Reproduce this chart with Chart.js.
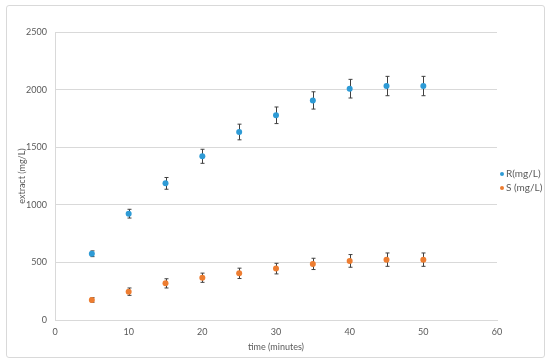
<!DOCTYPE html>
<html>
<head>
<meta charset="utf-8">
<script src="https://cdn.jsdelivr.net/npm/chart.js@4"></script>
<style>
  html, body { margin: 0; padding: 0; background: #fff; }
  #wrap { position: relative; width: 550px; height: 362px; }
  #frame { position: absolute; left: 6px; top: 5px; width: 537px; height: 351px; border: 1px solid #d9d9d9; border-radius: 3px; pointer-events: none; }
</style>
</head>
<body>
<div id="wrap">
  <canvas id="c" width="550" height="362"></canvas>
  <div id="frame"></div>
</div>
<script>
// valores
const times = [5, 10, 15, 20, 25, 30, 35, 40, 45, 50];
const rVals = [575, 923, 1186, 1421, 1632, 1777, 1906, 2008, 2031, 2031];
const rErr  = [25, 38, 51, 61, 68, 72, 75, 81, 84, 84];
const sVals = [174, 246, 318, 367, 405, 446, 487, 513, 524, 524];
const sErr  = [20, 32, 40, 40, 45, 46, 49, 55, 58, 58];
const labels = ['R(mg/L)', 'S (mg/L)'];

const txt = '#595959';
const fam = "Lato, 'Open Sans', sans-serif";

// barras de erro desenhadas com as escalas do chart (por baixo dos pontos)
const errorBars = {
    id: 'errorBars',
    beforeDatasetsDraw(chart) {
        const ctx = chart.ctx, xs = chart.scales.x, ys = chart.scales.y;
        ctx.save();
        ctx.strokeStyle = '#404040';
        ctx.lineWidth = 1;
        chart.data.datasets.forEach(ds => {
            ds.data.forEach((p, i) => {
                const x = Math.round(xs.getPixelForValue(p.x)) + 0.5;
                const y1 = ys.getPixelForValue(p.y + ds.err[i]);
                const y2 = ys.getPixelForValue(p.y - ds.err[i]);
                ctx.beginPath();
                ctx.moveTo(x, y1); ctx.lineTo(x, y2);
                ctx.moveTo(x - 2, y1); ctx.lineTo(x + 2, y1);
                ctx.moveTo(x - 2, y2); ctx.lineTo(x + 2, y2);
                ctx.stroke();
            });
        });
        ctx.restore();
    }
};

// legenda simples à direita
const sideLegend = {
    id: 'sideLegend',
    afterDraw(chart) {
        const ctx = chart.ctx;
        const x0 = chart.chartArea.right + 5, y0 = 174;
        ctx.save();
        ctx.font = '10px ' + fam;
        ctx.textBaseline = 'middle';
        chart.data.datasets.forEach((ds, i) => {
            const y = y0 + i * 14;
            ctx.fillStyle = ds.backgroundColor;
            ctx.beginPath(); ctx.arc(x0, y, 2, 0, Math.PI * 2); ctx.fill();
            ctx.fillStyle = txt;
            ctx.fillText(ds.label, x0 + 4, y);
        });
        ctx.restore();
    }
};

const toPts = vals => times.map((t, i) => ({x: t, y: vals[i]}));

new Chart(document.getElementById('c'), {
    type: 'scatter',
    data: {
        datasets: [
            { label: labels[0], data: toPts(rVals), err: rErr, backgroundColor: '#2e9bd6', borderColor: '#2e9bd6', pointRadius: 3, pointBorderWidth: 0 },
            { label: labels[1], data: toPts(sVals), err: sErr, backgroundColor: '#ed7d31', borderColor: '#ed7d31', pointRadius: 3, pointBorderWidth: 0 }
        ]
    },
    options: {
        responsive: false,
        animation: false,
        layout: { padding: { left: 0, top: 32, right: 53, bottom: 0 } },
        scales: {
            x: {
                type: 'linear', min: 0, max: 60,
                afterFit: s => { s.height = 42; },
                ticks: { stepSize: 10, color: txt, font: { family: fam, size: 9 }, padding: 7 },
                grid: { display: false, drawTicks: false },
                border: { display: true, color: '#d9d9d9' },
                title: { display: true, text: 'time (minutes)', color: txt, font: { family: fam, size: 9 }, padding: { top: 0, bottom: 10 } }
            },
            y: {
                min: 0, max: 2500,
                afterFit: s => { s.width = 55; },
                ticks: { stepSize: 500, color: txt, font: { family: fam, size: 9 }, padding: 8, callback: v => String(v) },
                grid: { color: '#d9d9d9', drawTicks: false },
                border: { display: true, color: '#d9d9d9' },
                title: { display: true, text: 'extract (mg/L)', color: txt, font: { family: fam, size: 9 }, padding: { top: 17, bottom: 0 } }
            }
        },
        plugins: {
            legend: { display: false },
            tooltip: { enabled: false }
        }
    },
    plugins: [errorBars, sideLegend]
});
</script>
</body>
</html>
